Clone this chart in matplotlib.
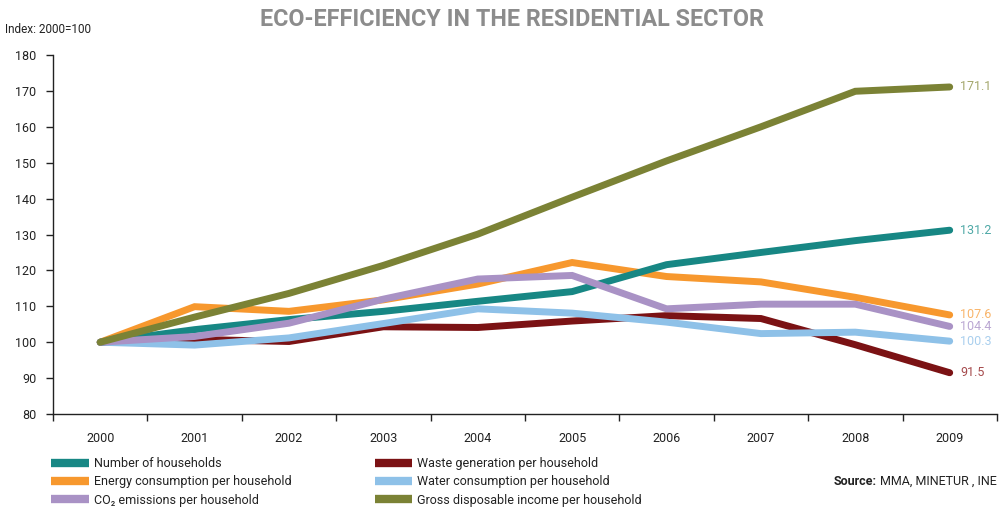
import matplotlib.pyplot as plt
from matplotlib.lines import Line2D

plt.rcParams['font.family'] = ['Roboto', 'DejaVu Sans']

years = ['2000', '2001', '2002', '2003', '2004', '2005', '2006', '2007', '2008', '2009']
households = [100, 103.5, 106.3, 108.6, 111.4, 114.1, 121.6, 125.0, 128.3, 131.2]
energy = [100, 109.9, 108.6, 111.8, 116.2, 122.2, 118.3, 116.8, 112.5, 107.6]
waste = [100, 100.8, 100.2, 104.3, 104.1, 105.9, 107.4, 106.6, 99.3, 91.5]
water = [100, 99.2, 101.2, 105.2, 109.3, 108.1, 105.6, 102.4, 102.8, 100.3]
co2 = [100, 101.6, 105.3, 112.0, 117.6, 118.6, 109.3, 110.6, 110.6, 104.4]
income = [100, 107.0, 113.6, 121.4, 130.1, 140.4, 150.5, 160.0, 169.9, 171.1]

names = ['Number of households', 'Energy consumption per household',
         'CO\u2082 emissions per household', 'Waste generation per household',
         'Water consumption per household', 'Gross disposable income per household']
series = [households, energy, co2, waste, water, income]
colors = ['#178784', '#F7982E', '#A992C5', '#7B1214', '#8EC1E8', '#7B8235']
label_colors = ['#4FA9A7', '#F9B56B', '#BBA8D3', '#A54A4C', '#A9CFEE', '#A3A66B']
# drawing order (olive on top at start)
order = [3, 4, 1, 0, 2, 5]

fig = plt.figure(figsize=(10.02, 5.08), dpi=100)
ax = fig.add_axes([0.0529, 0.185, 0.942, 0.7067])

x = list(range(len(years)))
for i in order:
    ax.plot(x, series[i], color=colors[i], lw=5, solid_capstyle='round',
            solid_joinstyle='miter', zorder=2 + order.index(i))
    ax.text(x[-1] + 0.11, series[i][-1], '%.1f' % series[i][-1], color=label_colors[i],
            fontsize=9, va='center', ha='left')

ax.set_xlim(-0.5, 9.5)
ax.set_ylim(80, 180)
ax.set_yticks(range(80, 181, 10))
ax.set_xticks(x)
ax.set_xticklabels(years)
ax.set_xticks([v - 0.5 for v in range(11)], minor=True)
ax.tick_params(axis='x', which='major', length=0, pad=13, labelsize=9, colors='#222222')
ax.tick_params(axis='x', which='minor', length=5, width=1, color='#222222')
ax.tick_params(axis='y', length=5, width=1, pad=7, labelsize=9, colors='#222222')
for s in ['top', 'right']:
    ax.spines[s].set_visible(False)
for s in ['left', 'bottom']:
    ax.spines[s].set_color('#222222')
    ax.spines[s].set_linewidth(1)

fig.text(0.511, 0.962, 'ECO-EFFICIENCY IN THE RESIDENTIAL SECTOR', ha='center', va='center',
         fontsize=16.8, fontweight='bold', color='#8C8C8C')
fig.text(0.005, 0.941, 'Index: 2000=100', fontsize=8.5, va='center', color='#222222')

handles = [Line2D([], [], color=c, lw=6, solid_capstyle='butt') for c in colors]
leg1 = fig.legend(handles[:3], names[:3], loc='upper left', bbox_to_anchor=(0.051, 0.1),
                  frameon=False, fontsize=9, handlelength=3.0, handletextpad=0.4,
                  labelspacing=0.42, borderpad=0, borderaxespad=0)
leg2 = fig.legend(handles[3:], names[3:], loc='upper left', bbox_to_anchor=(0.374, 0.1),
                  frameon=False, fontsize=9, handlelength=3.0, handletextpad=0.4,
                  labelspacing=0.42, borderpad=0, borderaxespad=0)
for leg in (leg1, leg2):
    for t in leg.get_texts():
        t.set_color('#222222')

src = fig.text(0.995, 0.053, 'MMA, MINETUR , INE', ha='right', va='center', fontsize=9,
               color='#222222')
fig.canvas.draw()
bb = src.get_window_extent()
fig.text((bb.x0 - 4) / fig.bbox.width, 0.053, 'Source:', ha='right', va='center', fontsize=9,
         fontweight='bold', color='#222222')

fig.savefig('out.png', dpi=100)
